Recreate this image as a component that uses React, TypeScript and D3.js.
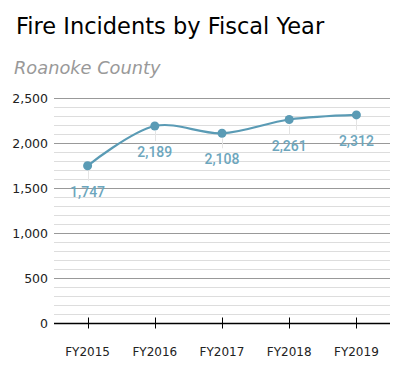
import React, { useEffect, useRef } from 'react';
import * as d3 from 'd3';

const years = ['FY2015', 'FY2016', 'FY2017', 'FY2018', 'FY2019'];
const incidents = [1747, 2189, 2108, 2261, 2312];
const yTicks = [0, 500, 1000, 1500, 2000, 2500];

const App: React.FC = () => {
  const svgRef = useRef<SVGSVGElement>(null);

  useEffect(() => {
    if (!svgRef.current) return;
    const root = d3.select(svgRef.current);
    root.selectAll('*').remove();

    const margin = { top: 98, right: 13, bottom: 47, left: 54 };
    const width = 403 - margin.left - margin.right;
    const height = 370 - margin.top - margin.bottom;

    // Titles
    root.append('text')
      .attr('x', 16).attr('y', 34)
      .text('Fire Incidents by Fiscal Year')
      .style('font-family', '"DejaVu Sans", Verdana, sans-serif')
      .style('font-size', '22.5px')
      .attr('fill', '#000');

    root.append('text')
      .attr('x', 14).attr('y', 74)
      .text('Roanoke County')
      .style('font-family', '"DejaVu Sans", Verdana, sans-serif')
      .style('font-size', '17.8px')
      .style('font-style', 'italic')
      .attr('fill', '#999');

    const g = root.append('g').attr('transform', `translate(${margin.left},${margin.top})`);

    const x = d3.scalePoint<string>().domain(years).range([0, width]).padding(0.5);
    const y = d3.scaleLinear().domain([0, 2500]).range([height, 0]);

    // minor gridlines
    g.append('g')
      .selectAll('line')
      .data(d3.range(100, 2600, 100).filter(v => v % 500 !== 0))
      .enter().append('line')
      .attr('x1', 0).attr('x2', width)
      .attr('y1', d => Math.round(y(d)) + 0.5).attr('y2', d => Math.round(y(d)) + 0.5)
      .attr('stroke', '#dddddd');

    // major gridlines
    g.append('g')
      .selectAll('line')
      .data(yTicks.filter(v => v > 0))
      .enter().append('line')
      .attr('x1', 0).attr('x2', width)
      .attr('y1', d => Math.round(y(d)) + 0.5).attr('y2', d => Math.round(y(d)) + 0.5)
      .attr('stroke', '#999999');

    // y labels
    g.append('g')
      .selectAll('text')
      .data(yTicks)
      .enter().append('text')
      .attr('x', -6)
      .attr('y', d => y(d) + 4.5)
      .attr('text-anchor', 'end')
      .text(d => d3.format(',')(d))
      .style('font-family', '"DejaVu Sans", Verdana, sans-serif')
      .style('font-size', '12.5px')
      .attr('fill', '#222');

    // x axis
    const xAxis = g.append('g').attr('transform', `translate(0,${Math.round(height) + 0.5})`);
    xAxis.append('line').attr('x1', 0).attr('x2', width).attr('stroke', '#000').attr('stroke-width', 1.5);
    xAxis.selectAll('line.tick')
      .data(years)
      .enter().append('line')
      .attr('class', 'tick')
      .attr('x1', d => Math.round(x(d)!) + 0.5).attr('x2', d => Math.round(x(d)!) + 0.5)
      .attr('y1', -6).attr('y2', 5)
      .attr('stroke', '#000');
    xAxis.selectAll('text')
      .data(years)
      .enter().append('text')
      .attr('x', d => x(d)!)
      .attr('y', 32)
      .attr('text-anchor', 'middle')
      .text(d => d)
      .style('font-family', '"DejaVu Sans", Verdana, sans-serif')
      .style('font-size', '12px')
      .attr('fill', '#222');

    const pts = years.map((yr, i) => ({ yr, v: incidents[i] }));

    // leader lines
    g.append('g')
      .selectAll('line')
      .data(pts)
      .enter().append('line')
      .attr('x1', d => Math.round(x(d.yr)!) + 0.5).attr('x2', d => Math.round(x(d.yr)!) + 0.5)
      .attr('y1', d => y(d.v) + 5).attr('y2', d => y(d.v) + 15)
      .attr('stroke', '#e4e4e4');

    const line = d3.line<{ yr: string; v: number }>()
      .x(d => x(d.yr)!)
      .y(d => y(d.v))
      .curve(d3.curveCatmullRom.alpha(0.5));

    g.append('path')
      .datum(pts)
      .attr('d', line)
      .attr('fill', 'none')
      .attr('stroke', '#5a9bb5')
      .attr('stroke-width', 2.2);

    g.append('g')
      .selectAll('circle')
      .data(pts)
      .enter().append('circle')
      .attr('cx', d => x(d.yr)!)
      .attr('cy', d => y(d.v))
      .attr('r', 4.5)
      .attr('fill', '#5a9bb5');

    g.append('g')
      .selectAll('text')
      .data(pts)
      .enter().append('text')
      .attr('x', d => x(d.yr)!)
      .attr('y', d => y(d.v) + 31)
      .attr('text-anchor', 'middle')
      .text(d => d3.format(',')(d.v))
      .style('font-family', 'Roboto, sans-serif')
      .style('font-size', '14px')
      .style('font-weight', '500')
      .attr('fill', '#6ca6bd');
  }, []);

  return (
    <div style={{ width: 403, height: 370, margin: -8, background: '#fff' }}>
      <svg ref={svgRef} width={403} height={370}></svg>
    </div>
  );
};

export default App;
